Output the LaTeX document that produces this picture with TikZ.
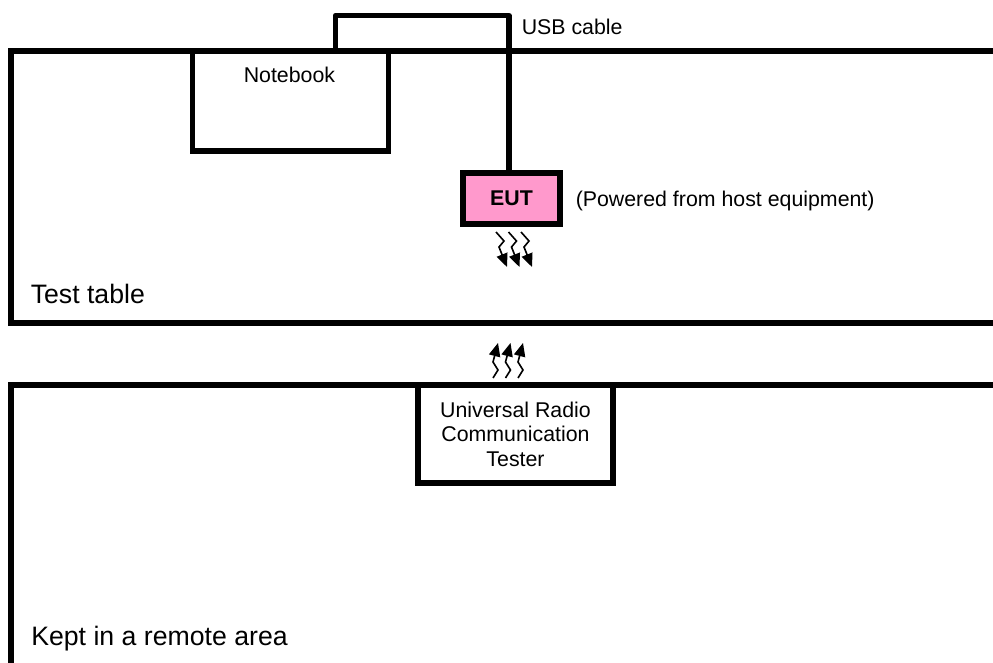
\documentclass[tikz,border=0pt]{standalone}
\usepackage{fontspec}
\setmainfont{Liberation Sans}
\usetikzlibrary{arrows.meta,calc}
\definecolor{eutpink}{HTML}{FF99CC}
\begin{document}
\begin{tikzpicture}[x=0.75pt,y=-0.75pt,
  tableline/.style={line width=4.5pt},
  boxline/.style={line width=3.9pt},
  lbl/.style={inner sep=0pt,font=\fontsize{16}{18.4}\selectfont},
  biglbl/.style={inner sep=0pt,font=\fontsize{20}{24}\selectfont},
  wave/.style={line width=1.2pt,line join=miter,-{Triangle[length=10pt,width=8.5pt]}},
]
\useasboundingbox (0,0) rectangle (993,663);
% test table
\draw[tableline] (993,51) -- (11,51) -- (11,323) -- (993,323);
% remote area
\draw[tableline] (993,385) -- (11,385) -- (11,663);
% notebook
\node[draw,boxline,minimum width=146.9pt,minimum height=75pt,inner sep=0pt] (nb) at (290.4,101) {};
\node[lbl,anchor=base west] (nblbl) at (243.5,83) {Notebook};
% EUT
\node[draw,line width=4.5pt,fill=eutpink,minimum width=72.75pt,minimum height=38.25pt,inner sep=0pt,
  font=\fontsize{16}{18}\selectfont\bfseries] (eut) at (511.5,198.5) {EUT};
\node[lbl,anchor=base west] (pwr) at (575.5,207) {(Powered from host equipment)};
% USB cable
\coordinate (usbL) at (335.5,51);
\coordinate (usbR) at (509,15.5);
\draw[boxline,line join=round] (usbL) |- (usbR) -- (usbR |- eut.north);
\node[lbl,anchor=base west] (usblbl) at (521.5,35) {USB cable};
% labels
\node[biglbl,anchor=base west] (tt) at (30.5,303.5) {Test table};
\node[biglbl,anchor=base west] (ra) at (31,645) {Kept in a remote area};
% tester
\node[draw,boxline,minimum width=146.25pt,minimum height=73.5pt,inner sep=0pt,
  lbl,align=center] (urct) at (515.5,434) {Universal Radio\\Communication\\Tester};
% radio waves
\foreach \dx in {0,12.5,25}{
  \draw[wave] ($(496,232)+(\dx,0)$) -- ++(8,9) -- ++(-5,6) -- ++(8,20);
  \draw[wave] ($(493,378)+(\dx,0)$) -- ++(5,-8) -- ++(-5,-8) -- ++(5,-19);
}
\end{tikzpicture}
\end{document}
